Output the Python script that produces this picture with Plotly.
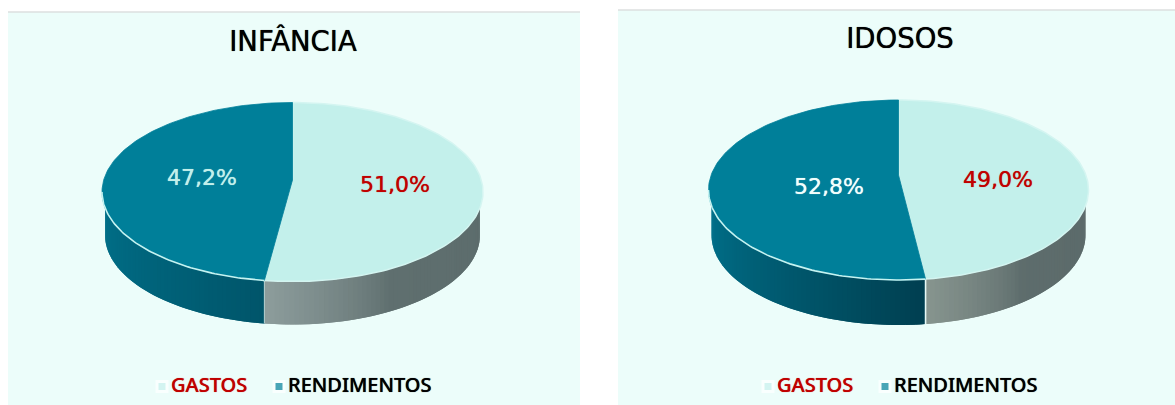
import numpy as np
import plotly.graph_objects as go

# Shares per group, in percent
titles = ["INFÂNCIA", "IDOSOS"]
categories = ["GASTOS", "RENDIMENTOS"]
gastos = [51.0, 49.0]
rendimentos = [47.2, 52.8]

TEXT_FONT = "DejaVu Sans"
LEGEND_FONT = "Noto Sans"
BG = "#ecfdfa"
LIGHT = "#c3f0eb"
TEAL = "#007f99"
RED = "#c00000"
PERSPECTIVE = 0.82  # front of the disc is drawn closer to the viewer

# Layout of each panel, in figure pixels
panels = [
    dict(x0=8, x1=580, top=12, cx=292.5, cy=192, rx=190.5, ry=89.5, vy=180, depth=43,
         title_x=293, title_y=44, glab=(395, 186), rlab=(202, 179), rcol=LIGHT, leg=(162, 279),
         grey=("#8d9d9c", "#5c6c6c"), dark=("#006f88", "#00556a"), seam="#c4d8d5", seam_w=1),
    dict(x0=618, x1=1175, top=10, cx=898.5, cy=190, rx=190, ry=90, vy=175, depth=45,
         title_x=900, title_y=41, glab=(998, 181), rlab=(829, 188), rcol="#f2fffd", leg=(768, 885),
         grey=("#87958f", "#5b6a6a"), dark=("#00708a", "#003f50"), seam="#e6f8f5", seam_w=1.6),
]


def rim_point(p, theta, inset=0.0):
    return p["cx"] + (p["rx"] - inset) * np.sin(theta), p["cy"] - p["ry"] * np.cos(theta)


def seen_angle(theta):
    # Projective map of the circle: angles stay fixed at the back and spread at the front
    return 2 * np.arctan2(PERSPECTIVE * np.sin(theta / 2), np.cos(theta / 2))


def blend(c0, c1, t):
    a = [int(c0[i:i + 2], 16) for i in (1, 3, 5)]
    b = [int(c1[i:i + 2], 16) for i in (1, 3, 5)]
    return "rgb(%d,%d,%d)" % tuple(round(u + (v - u) * t) for u, v in zip(a, b))


def poly(fig, xs, ys, fill, line=None, width=0):
    fig.add_trace(go.Scatter(
        x=list(xs), y=list(ys), mode="lines", fill="toself", fillcolor=fill,
        line=dict(color=line or fill, width=width),
        hoverinfo="skip", showlegend=False))


def side_band(fig, p, t0, t1, stops, ease):
    # Thin overlapping quads along the wall, so shading varies without seams
    n = max(3, int(abs(t1 - t0) / np.radians(1.5)))
    edges = np.linspace(t0, t1, n + 1)
    d = p["depth"]
    for i in range(n):
        xa, ya = rim_point(p, edges[i], 3)
        xb, yb = rim_point(p, edges[min(i + 2, n)], 3)
        poly(fig, [xa, xb, xb, xa, xa], [ya, yb, yb + d, ya + d, ya],
             blend(stops[0], stops[1], ease((i + 0.5) / n)))


def label(fig, x, y, text, family, size, color, position="middle center", weight=None, shadow=None):
    font = dict(family=family, size=size, color=color)
    if weight:
        font["weight"] = weight
    if shadow:
        font["shadow"] = shadow
    fig.add_trace(go.Scatter(x=[x], y=[y], mode="text", text=[text], textposition=position,
                             textfont=font, hoverinfo="skip", showlegend=False))


fig = go.Figure()
shapes = []

for idx, p in enumerate(panels):
    shapes.append(dict(type="rect", xref="x", yref="y", x0=p["x0"], x1=p["x1"], y0=p["top"], y1=405,
                       fillcolor=BG, line_width=0, layer="below"))
    shapes.append(dict(type="line", xref="x", yref="y", x0=p["x0"], x1=p["x1"], y0=p["top"], y1=p["top"],
                       line=dict(color="#dcdfdf", width=1.5), layer="below"))

    share = gastos[idx] / (gastos[idx] + rendimentos[idx])
    split = seen_angle(2 * np.pi * share) % (2 * np.pi)

    # Wall, split where the slices meet at the front
    side_band(fig, p, np.pi / 2, split, (p["grey"][1], p["grey"][0]),
              lambda t: max(0.0, (t - 0.6) / 0.4) ** 0.8 * 0.9 + 0.1 * t)
    side_band(fig, p, 1.5 * np.pi, split, (p["dark"][0], p["dark"][1]), lambda t: t ** 1.2)
    xs, ys = rim_point(p, split)
    fig.add_trace(go.Scatter(x=[xs, xs], y=[ys, ys + p["depth"]], mode="lines",
                             line=dict(color=p["seam"], width=p["seam_w"]),
                             hoverinfo="skip", showlegend=False))

    # Top face slices share the vertex, which sits above the ellipse centre
    gx, gy = rim_point(p, np.linspace(0, split, 140))
    rx, ry = rim_point(p, np.linspace(split, 2 * np.pi, 140))
    poly(fig, [p["cx"], *gx, p["cx"]], [p["vy"], *gy, p["vy"]], LIGHT, "#d4f5f1", 1.5)
    poly(fig, [p["cx"], *rx, p["cx"]], [p["vy"], *ry, p["vy"]], TEAL, TEAL, 0.8)

    # Pale highlight along the front edge of the dark slice
    hx, hy = rim_point(p, np.linspace(split, 1.5 * np.pi, 90))
    fig.add_trace(go.Scatter(x=hx, y=hy, mode="lines", line=dict(color="#c5f3f1", width=1.6),
                             hoverinfo="skip", showlegend=False))

    label(fig, p["title_x"], p["title_y"], titles[idx], TEXT_FONT, 27.5, "#000000", shadow="0 0 0.7px #000000")

    # Value labels
    label(fig, *p["glab"], f"{gastos[idx]:.1f}%".replace(".", ","), TEXT_FONT, 22, RED, shadow="0 0 0.7px " + RED)
    label(fig, *p["rlab"], f"{rendimentos[idx]:.1f}%".replace(".", ","), TEXT_FONT, 22, p["rcol"],
          shadow="0 0 0.7px " + p["rcol"])

    # Legend row
    ly = 386.5
    for name, mx, mcol, tcol in ((categories[0], p["leg"][0], LIGHT, RED),
                                 (categories[1], p["leg"][1], TEAL, "#000000")):
        fig.add_trace(go.Scatter(x=[mx, mx], y=[ly, ly], mode="markers",
                                 marker=dict(symbol="square", size=[13, 7], color=["#ffffff", mcol], line_width=0),
                                 hoverinfo="skip", showlegend=False))
        label(fig, mx + 9, ly + 0.5, name, LEGEND_FONT, 20, tcol, "middle right", weight=500,
              shadow="0 0 0.7px " + tcol)

fig.update_layout(
    width=1175, height=405, margin=dict(l=0, r=0, t=0, b=0),
    paper_bgcolor="#ffffff", plot_bgcolor="#ffffff", showlegend=False,
    shapes=shapes,
    xaxis=dict(range=[0, 1175], visible=False, fixedrange=True),
    yaxis=dict(range=[405, 0], visible=False, fixedrange=True),
)

fig.write_html("out.html", config={"displayModeBar": False})
